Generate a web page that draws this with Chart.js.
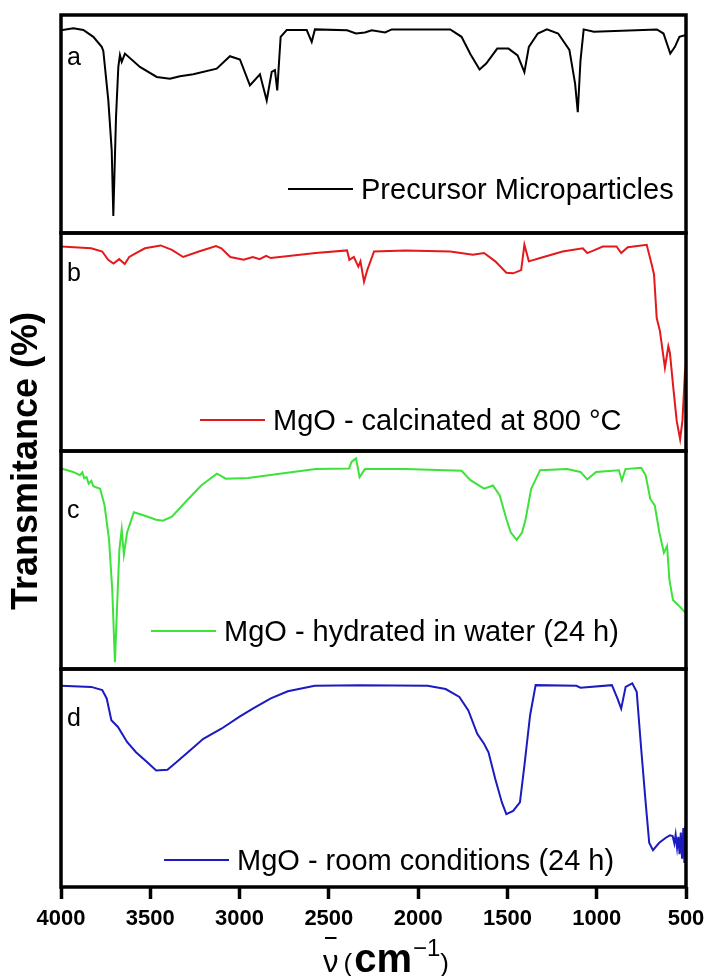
<!DOCTYPE html>
<html>
<head>
<meta charset="utf-8">
<title>FTIR spectra</title>
<script src="https://cdn.jsdelivr.net/npm/chart.js@4.4.1/dist/chart.umd.min.js"></script>
<style>
  html, body { margin: 0; padding: 0; background: #fff; }
  #wrap { position: relative; width: 705px; height: 976px; }
</style>
</head>
<body>
<div id="wrap"><canvas id="ftir" width="705" height="976"></canvas></div>
<script>
const FONT = "'Liberation Sans', Arial, sans-serif";

// wavenumber (cm-1) / transmittance pairs, one pair of arrays per sample
const precursorWn = [4000, 3931, 3875, 3819, 3772, 3763, 3735, 3716, 3707, 3692, 3679, 3670, 3660, 3642, 3558,
  3464, 3390, 3334, 3259, 3128, 3054, 2998, 2942, 2886, 2848, 2820, 2802, 2789, 2770, 2736, 2624, 2596, 2578,
  2398, 2348, 2298, 2260, 2185, 2148, 1820, 1757, 1707, 1656, 1619, 1557, 1494, 1443, 1405, 1380, 1330, 1279,
  1216, 1153, 1121, 1106, 1091, 1073, 1016, 663, 626, 588, 562, 537, 500];
const precursorT = [93.0, 93.9, 93.1, 90.0, 85.4, 83.5, 60.8, 37.8, 7.8, 53.0, 76.2, 81.6, 78.5, 82.3, 76.2,
  71.6, 70.8, 71.9, 72.8, 75.4, 81.1, 79.6, 67.7, 72.8, 60.8, 73.9, 74.7, 65.4, 90.0, 93.1, 93.1, 87.7, 93.4,
  93.0, 91.5, 92.0, 93.0, 92.0, 93.4, 93.4, 90.0, 82.0, 75.0, 77.7, 84.6, 84.6, 81.5, 73.8, 85.4, 91.5, 93.4,
  91.5, 84.0, 68.5, 55.4, 79.0, 93.4, 92.3, 93.4, 91.5, 82.3, 85.4, 90.0, 90.8];

const calcinedWn = [4000, 3831, 3769, 3736, 3706, 3674, 3643, 3618, 3580, 3530, 3442, 3379, 3316, 3228, 3132,
  3102, 3052, 2977, 2926, 2888, 2851, 2825, 2574, 2398, 2385, 2360, 2335, 2323, 2303, 2285, 2247, 2071, 1820,
  1694, 1631, 1568, 1506, 1468, 1423, 1405, 1380, 1317, 1191, 1078, 1053, 1016, 966, 889, 863, 826, 720, 692,
  679, 664, 646, 618, 599, 590, 571, 552, 533, 520, 506, 500];
const calcinedT = [93.8, 93.0, 91.5, 87.7, 86.0, 88.0, 85.8, 89.0, 90.8, 93.0, 94.3, 92.3, 89.0, 91.5, 94.0,
  93.0, 89.0, 87.7, 89.0, 88.0, 89.5, 88.5, 90.8, 92.0, 87.7, 89.0, 84.6, 87.0, 77.7, 83.0, 91.5, 92.0, 91.5,
  90.0, 90.8, 87.0, 81.8, 81.5, 83.0, 94.6, 87.0, 88.5, 91.5, 93.0, 90.8, 92.0, 93.8, 93.8, 90.8, 93.5, 94.6, 85.6,
  81.0, 61.0, 55.0, 38.2, 48.0, 45.0, 29.0, 13.8, 5.4, 13.8, 36.0, 40.0];

const hydratedWn = [4000, 3932, 3894, 3880, 3870, 3857, 3845, 3830, 3819, 3781, 3756, 3731, 3713, 3698, 3686,
  3673, 3660, 3648, 3630, 3592, 3530, 3467, 3429, 3379, 3304, 3215, 3127, 3077, 2952, 2775, 2574, 2386, 2373,
  2348, 2328, 2298, 2071, 1757, 1707, 1631, 1581, 1543, 1506, 1481, 1448, 1418, 1398, 1367, 1317, 1166, 1091,
  1053, 1003, 876, 859, 839, 751, 726, 700, 675, 649, 624, 606, 593, 573, 535, 500];
const hydratedT = [92.0, 90.4, 88.9, 90.2, 87.5, 88.0, 85.0, 86.3, 83.8, 82.7, 75.0, 59.5, 36.3, 3.1, 28.6,
  54.9, 64.0, 52.5, 62.6, 71.9, 70.3, 68.5, 68.0, 69.9, 76.5, 84.2, 89.6, 87.3, 87.6, 89.6, 91.7, 92.0, 95.0,
  96.6, 88.0, 91.7, 91.7, 90.9, 86.6, 82.7, 84.2, 79.6, 68.8, 62.6, 59.2, 62.6, 68.8, 82.7, 91.2, 91.7, 90.4,
  87.0, 90.4, 91.2, 86.6, 91.7, 92.3, 88.9, 78.0, 75.0, 62.6, 53.3, 56.4, 41.0, 31.7, 28.6, 25.5];

const roomWn = [4000, 3831, 3769, 3744, 3718, 3681, 3630, 3580, 3517, 3467, 3404, 3354, 3278, 3203, 3102, 3002,
  2926, 2825, 2730, 2579, 2328, 1947, 1846, 1769, 1719, 1669, 1631, 1606, 1568, 1531, 1506, 1468, 1430, 1405,
  1373, 1342, 1114, 1091, 915, 884, 863, 838, 801, 776, 751, 726, 706, 685, 650, 613, 590, 575, 565, 558, 550,
  543, 536, 529, 522, 515, 509, 503, 500];
const roomT = [92.3, 91.8, 90.3, 86.5, 76.5, 73.4, 66.5, 61.8, 57.2, 53.4, 53.8, 57.2, 62.6, 68.0, 72.6, 78.0,
  81.8, 86.5, 89.8, 92.3, 92.6, 92.3, 90.8, 87.2, 81.0, 70.3, 65.7, 61.8, 49.5, 38.8, 33.4, 34.9, 38.8, 55.7,
  78.8, 92.6, 92.3, 91.4, 92.6, 86.5, 81.8, 91.8, 93.4, 89.5, 63.4, 38.8, 20.3, 16.9, 20.3, 22.6, 23.7, 23.4,
  20.0, 24.0, 18.0, 23.0, 15.0, 25.0, 13.0, 27.0, 11.0, 28.0, 20.0];

const xTicks = [4000, 3500, 3000, 2500, 2000, 1500, 1000, 500];

// one panel per sample, top to bottom
const panels = [
  { axis: 'yA', tag: 'a', name: 'Precursor Microparticles',        color: '#000000', wn: precursorWn, t: precursorT,
    tagY: 50, legendX: 288, legendY: 34 },
  { axis: 'yB', tag: 'b', name: 'MgO - calcinated at 800 °C',       color: '#e3191c', wn: calcinedWn,  t: calcinedT,
    tagY: 48, legendX: 200, legendY: 21 },
  { axis: 'yC', tag: 'c', name: 'MgO - hydrated in water (24 h)',   color: '#3de23a', wn: hydratedWn,  t: hydratedT,
    tagY: 67, legendX: 151, legendY: 28 },
  { axis: 'yD', tag: 'd', name: 'MgO - room conditions (24 h)',     color: '#1b1bc0', wn: roomWn,      t: roomT,
    tagY: 57, legendX: 164, legendY: 17 }
];

function panelScale() {
  return { type: 'linear', display: false, min: 0, max: 100, position: 'left', stack: 'spectra', stackWeight: 1 };
}

// left-stacked boxes are laid out last-defined first, so d goes in first
const scales = {
  x: {
    type: 'linear', reverse: true, min: 500, max: 4000,
    afterBuildTicks: (scale) => { scale.ticks = xTicks.map(v => ({ value: v })); },
    afterFit: (scale) => {
      scale.height = 89;
      // let the end labels run into the page margin
      scale.paddingLeft = 0;
      scale.paddingRight = 0;
    },
    ticks: { color: '#000', padding: 7, font: { family: FONT, size: 22, weight: 'bold' }, callback: v => String(v) },
    grid: { drawOnChartArea: false, drawTicks: true, tickLength: 12, tickWidth: 3.5, tickColor: '#000' },
    border: { display: false }
  },
  yD: panelScale(),
  yC: panelScale(),
  yB: panelScale(),
  yA: panelScale()
};

const framePlugin = {
  id: 'framePlugin',
  afterDraw(chart) {
    const { ctx, chartArea } = chart;
    const w = chartArea.right - chartArea.left;
    ctx.save();

    panels.forEach(p => {
      const s = chart.scales[p.axis];
      ctx.strokeStyle = '#000';
      ctx.lineWidth = 3.5;
      ctx.strokeRect(chartArea.left, s.top, w, s.bottom - s.top);

      ctx.fillStyle = '#000';
      ctx.textAlign = 'left';
      ctx.textBaseline = 'alphabetic';
      ctx.font = '25px ' + FONT;
      ctx.fillText(p.tag, chartArea.left + 6, s.top + p.tagY);

      // legend entry: sample line + name
      const base = s.bottom - p.legendY;
      ctx.strokeStyle = p.color;
      ctx.lineWidth = 2;
      ctx.beginPath();
      ctx.moveTo(p.legendX, base - 10);
      ctx.lineTo(p.legendX + 65, base - 10);
      ctx.stroke();
      ctx.font = '29px ' + FONT;
      ctx.fillText(p.name, p.legendX + 73, base);
    });

    // y title
    ctx.save();
    ctx.translate(37, 461);
    ctx.rotate(-Math.PI / 2);
    ctx.textAlign = 'center';
    ctx.font = 'bold 36px ' + FONT;
    ctx.fillText('Transmitance (%)', 0, 0);
    ctx.restore();

    // x title: nu-bar (cm^-1)
    const base = 972;
    let x = 323;
    ctx.textAlign = 'left';
    ctx.font = '31px ' + FONT;
    ctx.fillText('ν', x, base);
    const nuW = ctx.measureText('ν').width;
    ctx.fillRect(x + 2, base - 35, nuW - 4, 2);
    x += nuW + 5;
    ctx.font = '26px ' + FONT;
    ctx.fillText('(', x, base);
    x += ctx.measureText('(').width + 2;
    ctx.font = 'bold 40px ' + FONT;
    ctx.fillText('cm', x, base);
    x += ctx.measureText('cm').width + 1;
    ctx.font = '24px ' + FONT;
    ctx.fillText('−1', x, base - 16);
    x += ctx.measureText('−1').width;
    ctx.font = '26px ' + FONT;
    ctx.fillText(')', x, base);

    ctx.restore();
  }
};

new Chart(document.getElementById('ftir'), {
  type: 'line',
  data: {
    datasets: panels.map(p => ({
      label: p.name,
      yAxisID: p.axis,
      data: p.wn.map((w, i) => ({ x: w, y: p.t[i] })),
      borderColor: p.color,
      borderWidth: 2,
      pointRadius: 0,
      tension: 0,
      fill: false
    }))
  },
  options: {
    responsive: false,
    animation: false,
    devicePixelRatio: 1,
    layout: { padding: { top: 15, left: 61, right: 19, bottom: 0 } },
    plugins: { legend: { display: false }, tooltip: { enabled: false } },
    scales: scales
  },
  plugins: [framePlugin]
});
</script>
</body>
</html>
